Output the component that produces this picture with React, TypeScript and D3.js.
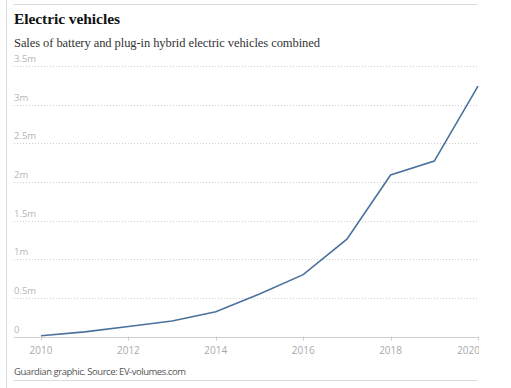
import React, { useRef, useEffect } from 'react'
import * as d3 from 'd3'

// sales, millions of vehicles
const years = [2010, 2011, 2012, 2013, 2014, 2015, 2016, 2017, 2018, 2019, 2020]
const sales = [0.01, 0.06, 0.13, 0.2, 0.32, 0.55, 0.8, 1.26, 2.09, 2.27, 3.24]

const yTicks = [0, 0.5, 1, 1.5, 2, 2.5, 3, 3.5]
const yTickLabels = ['0', '0.5m', '1m', '1.5m', '2m', '2.5m', '3m', '3.5m']
const xTicks = [2010, 2012, 2014, 2016, 2018, 2020]

const W = 511
const H = 388
const left = 14
const right = 478

export default function App() {
  const svgRef = useRef<SVGSVGElement>(null)

  useEffect(() => {
    if (!svgRef.current) return
    const svg = d3.select(svgRef.current)
    svg.selectAll('*').remove()

    const x = d3.scaleLinear().domain([2010, 2020]).range([41, right])
    const y = d3.scaleLinear().domain([0, 3.5]).range([336.5, 66])

    svg.append('defs')
      .append('clipPath')
      .attr('id', 'clip')
      .append('rect')
      .attr('x', 0)
      .attr('y', 0)
      .attr('width', right + 1)
      .attr('height', H)

    // frame
    svg.append('line')
      .attr('x1', 6.5).attr('x2', 6.5)
      .attr('y1', 0).attr('y2', H)
      .attr('stroke', '#dcdcdc')
    svg.append('line')
      .attr('x1', left).attr('x2', right)
      .attr('y1', 4.5).attr('y2', 4.5)
      .attr('stroke', '#dcdcdc')
    svg.append('line')
      .attr('x1', left).attr('x2', right)
      .attr('y1', 380.5).attr('y2', 380.5)
      .attr('stroke', '#dcdcdc')

    // title + subtitle
    svg.append('text')
      .attr('x', left)
      .attr('y', 24)
      .attr('font-family', '"Liberation Serif", serif')
      .attr('font-weight', 'bold')
      .attr('font-size', 15.5)
      .attr('textLength', 106)
      .attr('fill', '#121212')
      .text('Electric vehicles')

    svg.append('text')
      .attr('x', left)
      .attr('y', 47)
      .attr('font-family', '"Liberation Serif", serif')
      .attr('font-size', 12.5)
      .attr('textLength', 306)
      .attr('fill', '#333')
      .text('Sales of battery and plug-in hybrid electric vehicles combined')

    // grid
    const grid = svg.append('g')
    yTicks.forEach((t, i) => {
      grid.append('line')
        .attr('x1', left).attr('x2', right)
        .attr('y1', Math.round(y(t)) + 0.5).attr('y2', Math.round(y(t)) + 0.5)
        .attr('stroke', '#cfcfcf')
        .attr('stroke-dasharray', t === 0 ? null : '1,2')
      grid.append('text')
        .attr('x', left)
        .attr('y', y(t) - 4)
        .attr('font-family', '"Open Sans", sans-serif')
        .attr('font-size', 9.5)
        .attr('fill', '#b5b5b5')
        .text(yTickLabels[i])
    })

    // x axis (last label sits against the right edge and gets cut)
    const xAxis = svg.append('g').attr('clip-path', 'url(#clip)')
    xTicks.forEach((t, i) => {
      const last = i === xTicks.length - 1
      xAxis.append('line')
        .attr('x1', Math.round(x(t)) + 0.5).attr('x2', Math.round(x(t)) + 0.5)
        .attr('y1', 336.5).attr('y2', 340.5)
        .attr('stroke', '#cfcfcf')
      xAxis.append('text')
        .attr('x', last ? x(t) + 2 : x(t))
        .attr('y', 354)
        .attr('text-anchor', last ? 'end' : 'middle')
        .attr('font-family', '"Open Sans", sans-serif')
        .attr('font-size', 10)
        .attr('fill', '#aaa')
        .text(t)
    })

    // line
    const line = d3.line<number>()
      .x((_, i) => x(years[i]))
      .y(d => y(d))

    svg.append('path')
      .datum(sales)
      .attr('d', line)
      .attr('fill', 'none')
      .attr('stroke', '#4a719c')
      .attr('stroke-width', 1.6)

    // source
    svg.append('text')
      .attr('x', left)
      .attr('y', 375)
      .attr('font-family', '"Open Sans", sans-serif')
      .attr('font-size', 9.5)
      .attr('textLength', 172)
      .attr('fill', '#555')
      .text('Guardian graphic. Source: EV-volumes.com')
  }, [])

  return (
    <svg
      ref={svgRef}
      width={W}
      height={H}
      style={{ position: 'absolute', left: 0, top: 0, background: '#fff' }}
    />
  )
}
